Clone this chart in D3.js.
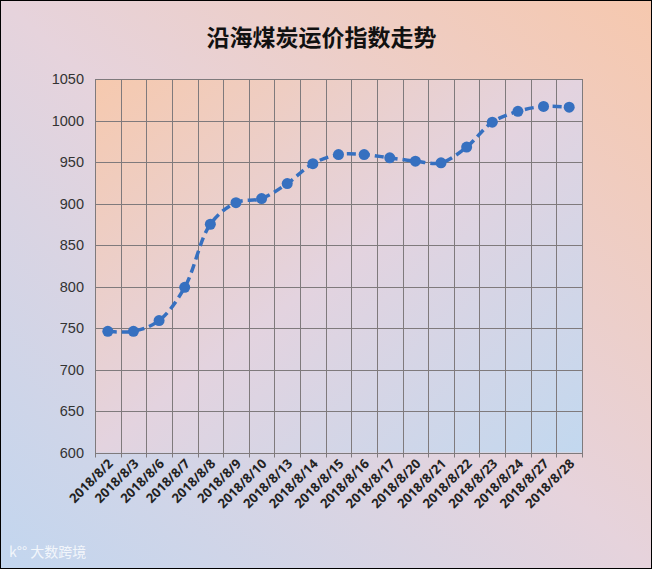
<!DOCTYPE html>
<html><head><meta charset="utf-8">
<script src="https://cdn.jsdelivr.net/npm/d3@7"></script>
<style>body{margin:0;padding:0;}svg{display:block;}</style>
</head><body>
<svg id="c" width="652" height="569"></svg>
<script>
const categories = ["2018/8/2","2018/8/3","2018/8/6","2018/8/7","2018/8/8","2018/8/9","2018/8/10","2018/8/13","2018/8/14","2018/8/15","2018/8/16","2018/8/17","2018/8/20","2018/8/21","2018/8/22","2018/8/23","2018/8/24","2018/8/27","2018/8/28"];
const values = [746,746,759,799,875,901,906,924,948,959,959,955,951,949,968,998,1011,1017,1016];
const yTicks = [600,650,700,750,800,850,900,950,1000,1050];
const title = "沿海煤炭运价指数走势";

const W=652,H=569;
const svg=d3.select("#c");
const defs=svg.append("defs");
const g1=defs.append("linearGradient").attr("id","bg").attr("x1","1").attr("y1","0").attr("x2","0").attr("y2","1");
g1.append("stop").attr("offset","0").attr("stop-color","#f6c8ae");
g1.append("stop").attr("offset","0.5").attr("stop-color","#e6d3dc");
g1.append("stop").attr("offset","1").attr("stop-color","#c2d6ef");
const g2=defs.append("linearGradient").attr("id","pa").attr("x1","0").attr("y1","0").attr("x2","1").attr("y2","1");
g2.append("stop").attr("offset","0").attr("stop-color","#f6c9ae");
g2.append("stop").attr("offset","0.5").attr("stop-color","#e3d3df");
g2.append("stop").attr("offset","1").attr("stop-color","#c2d8ef");

svg.append("rect").attr("x",0.5).attr("y",0.5).attr("width",W-1).attr("height",H-1).attr("fill","url(#bg)").attr("stroke","#000").attr("stroke-width",1);

const m={l:95,r:582,t:79,b:452.5};
const x=d3.scaleBand().domain(categories).range([m.l,m.r]);
const y=d3.scaleLinear().domain([600,1050]).range([m.b,m.t]);

svg.append("rect").attr("x",m.l).attr("y",m.t).attr("width",m.r-m.l).attr("height",m.b-m.t).attr("fill","url(#pa)");

svg.append("text").attr("x",321.5).attr("y",46).attr("text-anchor","middle")
  .attr("font-family","Noto Sans CJK SC").attr("font-weight","bold").attr("font-size",23).attr("fill","#111").text(title);

// horizontal grid
const gridColor="#7f7a7c";
svg.append("g").selectAll("line").data(yTicks).join("line")
  .attr("x1",m.l).attr("x2",m.r).attr("y1",d=>Math.round(y(d))+0.5).attr("y2",d=>Math.round(y(d))+0.5)
  .attr("stroke",gridColor).attr("stroke-width",1);
// vertical grid at band boundaries
const bounds=categories.map(c=>x(c)).concat([m.r]);
svg.append("g").selectAll("line").data(bounds).join("line")
  .attr("x1",d=>Math.round(d)+0.5).attr("x2",d=>Math.round(d)+0.5).attr("y1",m.t).attr("y2",m.b+5)
  .attr("stroke",gridColor).attr("stroke-width",1);

// y labels
svg.append("g").selectAll("text").data(yTicks).join("text")
  .attr("x",84).attr("y",d=>y(d)+5).attr("text-anchor","end")
  .attr("font-family","Liberation Sans, Arial").attr("font-size",14.5).attr("fill","#333").text(d=>d);

// x labels
svg.append("g").selectAll("text").data(categories).join("text")
  .attr("transform",d=>`translate(${x(d)+x.bandwidth()/2+6},${m.b+12}) rotate(-45)`)
  .attr("text-anchor","end").attr("font-family","Open Sans, DejaVu Sans").attr("font-weight","bold")
  .attr("font-size",13).attr("fill","#222").text(d=>d);

// line
const line=d3.line().x((d,i)=>x(categories[i])+x.bandwidth()/2).y(d=>y(d)).curve(d3.curveCatmullRom.alpha(0.5));
const color="#3670c0";
svg.append("path").datum(values).attr("d",line).attr("fill","none").attr("stroke",color)
  .attr("stroke-width",3.5).attr("stroke-dasharray","9,5");
svg.append("g").selectAll("circle").data(values).join("circle")
  .attr("cx",(d,i)=>x(categories[i])+x.bandwidth()/2).attr("cy",d=>y(d)).attr("r",5.5).attr("fill",color);

// watermark
svg.append("text").attr("x",9).attr("y",557).attr("font-family","Noto Sans CJK SC").attr("font-size",14)
  .attr("fill","#ffffff").attr("fill-opacity",0.8).text("k°° 大数跨境");
</script>
</body></html>
